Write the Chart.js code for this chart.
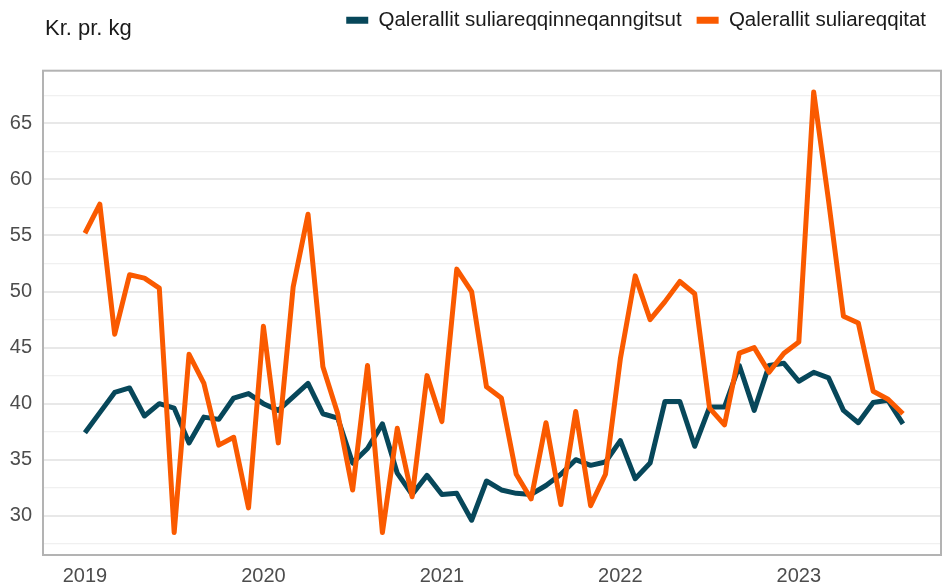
<!DOCTYPE html>
<html>
<head>
<meta charset="utf-8">
<script src="https://cdn.jsdelivr.net/npm/chart.js@4.4.0/dist/chart.umd.min.js"></script>
<style>
  html, body { margin: 0; padding: 0; background: #fff; }
  #wrap { width: 949px; height: 585px; position: relative; }
</style>
</head>
<body>
<div id="wrap"><canvas id="mycanvas"></canvas></div>
<script>
// monthly observations, Jan 2019 - Aug 2023
var months = [
	'2019-01','2019-02','2019-03','2019-04','2019-05','2019-06','2019-07','2019-08','2019-09','2019-10','2019-11','2019-12',
	'2020-01','2020-02','2020-03','2020-04','2020-05','2020-06','2020-07','2020-08','2020-09','2020-10','2020-11','2020-12',
	'2021-01','2021-02','2021-03','2021-04','2021-05','2021-06','2021-07','2021-08','2021-09','2021-10','2021-11','2021-12',
	'2022-01','2022-02','2022-03','2022-04','2022-05','2022-06','2022-07','2022-08','2022-09','2022-10','2022-11','2022-12',
	'2023-01','2023-02','2023-03','2023-04','2023-05','2023-06','2023-07','2023-08'
];
var yearTicks = ['2019', '2020', '2021', '2022', '2023'];

var unprocessed = [
	37.4, 39.2, 41.0, 41.4, 38.9, 40.0, 39.6, 36.5, 38.8, 38.6, 40.5, 40.9,
	40.0, 39.4, 40.6, 41.8, 39.1, 38.7, 34.7, 36.0, 38.2, 33.8, 31.9, 33.6,
	31.9, 32.0, 29.6, 33.1, 32.3, 32.0, 31.9, 32.7, 33.7, 35.0, 34.5, 34.8,
	36.7, 33.3, 34.7, 40.2, 40.2, 36.2, 39.7, 39.7, 43.4, 39.4, 43.4, 43.6,
	42.0, 42.8, 42.3, 39.4, 38.3, 40.1, 40.3, 38.2
];
var processed = [
	55.2, 57.8, 46.2, 51.5, 51.2, 50.3, 28.5, 44.4, 41.8, 36.3, 37.0, 30.7,
	46.9, 36.5, 50.4, 56.9, 43.3, 39.1, 32.3, 43.4, 28.5, 37.8, 31.7, 42.5,
	38.4, 52.0, 50.0, 41.5, 40.5, 33.7, 31.5, 38.3, 31.0, 39.3, 30.9, 33.7,
	44.0, 51.4, 47.5, 49.1, 50.9, 49.8, 39.6, 38.1, 44.5, 45.0, 42.8, 44.5,
	45.5, 67.8, 58.1, 47.8, 47.2, 41.1, 40.4, 39.1
];

var unitLabel = 'Kr. pr. kg';
var seriesNames = ['Qalerallit suliareqqinneqanngitsut', 'Qalerallit suliareqqitat'];
var colors = ['#07475a', '#fa5a00'];
var fontFamily = '"Liberation Sans", Arial, sans-serif';

function toPoints(values) {
	return values.map(function(v, i) { return { x: i, y: v }; });
}

// grey box round the plot + unit text top left
var framePlugin = {
	id: 'frame',
	afterDraw: function(chart) {
		var ctx = chart.ctx, a = chart.chartArea;
		ctx.save();
		ctx.strokeStyle = '#b3b3b3';
		ctx.lineWidth = 2;
		ctx.strokeRect(a.left, a.top, a.right - a.left, a.bottom - a.top);
		ctx.fillStyle = '#1a1a1a';
		ctx.font = '22px ' + fontFamily;
		ctx.textBaseline = 'alphabetic';
		ctx.textAlign = 'left';
		ctx.fillText(unitLabel, 45, 35);
		ctx.restore();
	}
};

var legendDefaults = Chart.defaults.plugins.legend.labels.generateLabels;

new Chart(document.getElementById('mycanvas'), {
	type: 'line',
	data: {
		datasets: [
			{
				label: seriesNames[0],
				data: toPoints(unprocessed),
				borderColor: colors[0],
				backgroundColor: colors[0],
				borderWidth: 5,
				pointRadius: 0,
				tension: 0,
				borderJoinStyle: 'round',
				order: 1
			},
			{
				label: seriesNames[1],
				data: toPoints(processed),
				borderColor: colors[1],
				backgroundColor: colors[1],
				borderWidth: 5,
				pointRadius: 0,
				tension: 0,
				borderJoinStyle: 'round',
				order: 0
			}
		]
	},
	options: {
		responsive: true,
		maintainAspectRatio: false,
		animation: false,
		layout: { padding: { top: -5, right: 8, left: 0, bottom: 0 } },
		plugins: {
			tooltip: { enabled: false },
			subtitle: {
				display: true,
				text: '',
				weight: 500,
				font: { size: 1 },
				padding: { top: 0, bottom: 29 }
			},
			legend: {
				position: 'top',
				align: 'end',
				labels: {
					boxWidth: 22,
					boxHeight: 7,
					padding: 15,
					color: '#1a1a1a',
					font: { family: fontFamily, size: 20.5 },
					generateLabels: function(chart) {
						return legendDefaults(chart).map(function(l) {
							l.lineWidth = 0;
							return l;
						});
					},
					sort: function(a, b) { return a.datasetIndex - b.datasetIndex; }
				}
			}
		},
		scales: {
			x: {
				type: 'linear',
				min: -2.82,
				max: 57.56,
				grid: { display: false, drawTicks: false },
				border: { display: false },
				afterFit: function(scale) { scale.height = 30; },
				afterBuildTicks: function(scale) {
					scale.ticks = yearTicks.map(function(y) {
						return { value: months.indexOf(y + '-01') };
					});
				},
				ticks: {
					autoSkip: false,
					maxRotation: 0,
					padding: 9,
					color: '#4d4d4d',
					font: { family: fontFamily, size: 20 },
					callback: function(value) { return months[value].slice(0, 4); }
				}
			},
			y: {
				min: 26.5,
				max: 69.7,
				afterFit: function(scale) { scale.width = 43; },
				border: { display: false },
				grid: {
					drawTicks: false,
					color: function(c) { return c.tick.value % 5 === 0 ? '#e8e8e8' : '#f0f0f0'; },
					lineWidth: function(c) { return c.tick.value % 5 === 0 ? 2 : 1.2; }
				},
				ticks: {
					stepSize: 2.5,
					includeBounds: false,
					padding: 11,
					color: '#4d4d4d',
					font: { family: fontFamily, size: 20 },
					callback: function(value) { return value % 5 === 0 ? value : ''; }
				}
			}
		}
	},
	plugins: [framePlugin]
});
</script>
</body>
</html>
